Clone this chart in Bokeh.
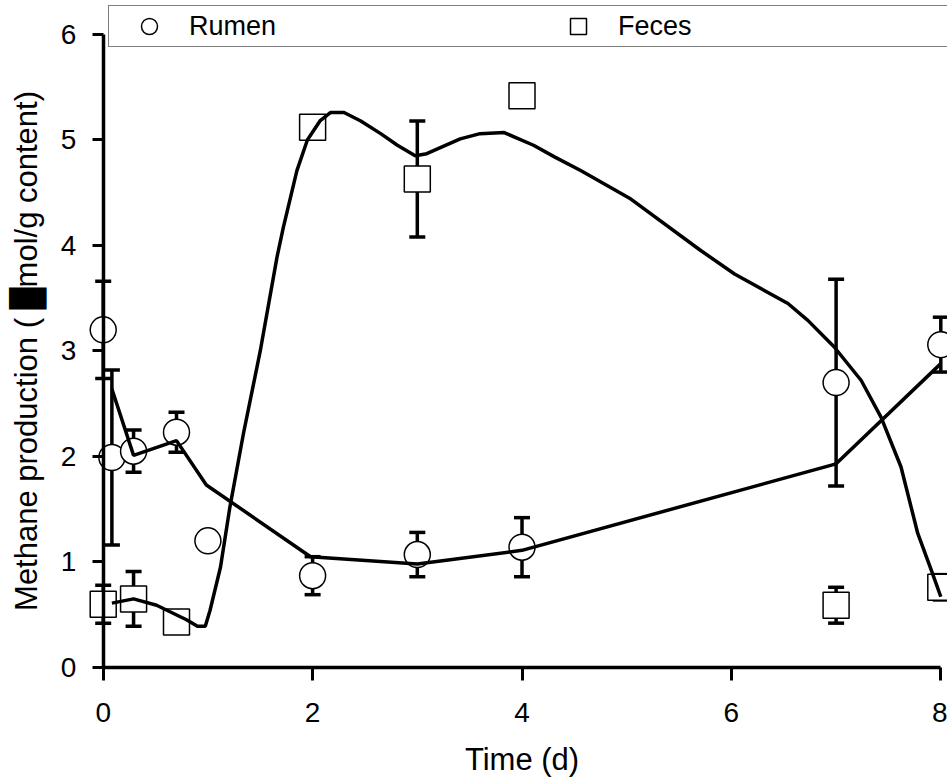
import math
from bokeh.plotting import figure
from bokeh.models import (ColumnDataSource, Whisker, TeeHead, FixedTicker, Range1d,
                          Legend, LegendItem, Label)
from bokeh.embed import file_html
from bokeh.resources import INLINE

# ---- data ----
rumen_x = [0, 0.083, 0.29, 0.70, 1.0, 2, 3, 4, 7, 8]
rumen_y = [3.20, 1.99, 2.05, 2.23, 1.20, 0.87, 1.07, 1.14, 2.70, 3.06]
rumen_err = [0.46, 0.83, 0.20, 0.19, 0.0, 0.18, 0.21, 0.28, 0.98, 0.26]

feces_x = [0, 0.29, 0.70, 2, 3, 4, 7, 8]
feces_y = [0.60, 0.65, 0.43, 5.12, 4.63, 5.42, 0.59, 0.76]
feces_err = [0.18, 0.26, 0.0, 0.0, 0.55, 0.0, 0.17, 0.12]

rumen_line_x = [0.083, 0.29, 0.70, 0.985, 1.98, 3.0, 4.0, 7.0, 8.0]
rumen_line_y = [2.64, 2.01, 2.15, 1.73, 1.05, 0.98, 1.11, 1.93, 2.88]

feces_line_x = [0.083, 0.29, 0.51, 0.80, 0.90, 0.975, 1.02, 1.12, 1.21, 1.34, 1.50,
                1.66, 1.72, 1.85, 1.95, 2.07, 2.17, 2.30, 2.46, 2.65, 2.81, 2.98,
                3.09, 3.41, 3.60, 3.83, 4.11, 4.31, 4.56, 5.04, 5.71, 6.03, 6.54,
                6.73, 6.98, 7.24, 7.43, 7.62, 7.78, 7.91, 8.0]
feces_line_y = [0.61, 0.65, 0.59, 0.45, 0.39, 0.39, 0.54, 0.95, 1.52, 2.22, 3.00,
                3.89, 4.17, 4.71, 5.00, 5.18, 5.26, 5.26, 5.18, 5.06, 4.95, 4.85,
                4.87, 5.01, 5.06, 5.07, 4.95, 4.84, 4.71, 4.44, 3.95, 3.73, 3.45,
                3.29, 3.04, 2.72, 2.37, 1.90, 1.27, 0.92, 0.67]

x_ticks = [0, 2, 4, 6, 8]
y_ticks = [0, 1, 2, 3, 4, 5, 6]
series_names = ["Rumen", "Feces"]
x_title = "Time (d)"
y_title = "Methane production ( \u2588mol/g content)"

FONT = "Liberation Sans"

# frame covers the whole canvas; the axes sit at x=0 / y=0 inside it
p = figure(width=947, height=779, output_backend="svg", toolbar_location=None,
           x_range=Range1d(-0.981, 8.064), y_range=Range1d(-1.062, 6.322),
           min_border_left=0, min_border_right=0, min_border_top=0,
           min_border_bottom=0)
p.outline_line_color = None
p.grid.visible = False
p.background_fill_color = "white"
p.border_fill_color = "white"

for ax in (p.xaxis[0], p.yaxis[0]):
    ax.axis_line_width = 3.5
    ax.axis_line_color = "black"
    ax.major_tick_line_width = 3
    ax.major_tick_line_color = "black"
    ax.major_tick_in = 0
    ax.minor_tick_line_color = None
    ax.major_label_text_font = FONT
    ax.major_label_text_font_size = "28px"
    ax.major_label_text_color = "black"

p.xaxis.ticker = FixedTicker(ticks=x_ticks)
p.xaxis.bounds = (0, 8)
p.xaxis.fixed_location = 0
p.xaxis.major_tick_out = 13
p.xaxis.major_label_standoff = 23

p.yaxis.ticker = FixedTicker(ticks=y_ticks)
p.yaxis.bounds = (0, 6)
p.yaxis.fixed_location = 0
p.yaxis.major_tick_out = 11
p.yaxis.major_label_standoff = 16

# axis titles, centred on the axis extents
p.add_layout(Label(x=4, y=-0.872, text=x_title, text_align="center",
                   text_baseline="alphabetic", text_font=FONT,
                   text_font_size="31px", text_color="black"))
p.add_layout(Label(x=-0.728, y=3.0, text=y_title, angle=math.pi / 2,
                   text_align="center", text_baseline="alphabetic",
                   text_font=FONT, text_font_size="31px", text_color="black"))

# error bars (behind markers)
r_idx = [i for i, e in enumerate(rumen_err) if e > 0]
f_idx = [i for i, e in enumerate(feces_err) if e > 0]
r_err_src = ColumnDataSource(dict(
    x=[rumen_x[i] for i in r_idx],
    lo=[rumen_y[i] - rumen_err[i] for i in r_idx],
    hi=[rumen_y[i] + rumen_err[i] for i in r_idx]))
f_err_src = ColumnDataSource(dict(
    x=[feces_x[i] for i in f_idx],
    lo=[feces_y[i] - feces_err[i] for i in f_idx],
    hi=[feces_y[i] + feces_err[i] for i in f_idx]))
for src in (r_err_src, f_err_src):
    w = Whisker(base="x", lower="lo", upper="hi", source=src, dimension="height",
                line_width=3.5, line_color="black", level="underlay",
                upper_head=TeeHead(size=16, line_width=3.5, line_color="black"),
                lower_head=TeeHead(size=16, line_width=3.5, line_color="black"))
    p.add_layout(w)

# markers
r_src = ColumnDataSource(dict(x=rumen_x, y=rumen_y))
f_src = ColumnDataSource(dict(x=feces_x, y=feces_y))
r_pts = p.scatter("x", "y", source=r_src, marker="circle", size=26,
                  fill_color="white", line_color="black", line_width=1.5)
f_pts = p.scatter("x", "y", source=f_src, marker="square", size=26,
                  fill_color="white", line_color="black", line_width=1.5)

# fitted lines (on top of markers)
p.line(rumen_line_x, rumen_line_y, line_width=3.5, line_color="black")
p.line(feces_line_x, feces_line_y, line_width=3.5, line_color="black")

legend = Legend(items=[LegendItem(label=series_names[0], renderers=[r_pts]),
                       LegendItem(label=series_names[1], renderers=[f_pts])],
                orientation="horizontal", location=(108, 732), margin=0,
                padding=0, spacing=0, glyph_width=80, glyph_height=40,
                label_standoff=0, label_width=349, label_height=40,
                label_text_font=FONT, label_text_font_size="27px",
                label_text_color="black",
                border_line_color="black", border_line_width=1.2,
                background_fill_color="white", background_fill_alpha=1.0)
p.add_layout(legend)

open("out.html", "w").write(file_html(p, INLINE))
